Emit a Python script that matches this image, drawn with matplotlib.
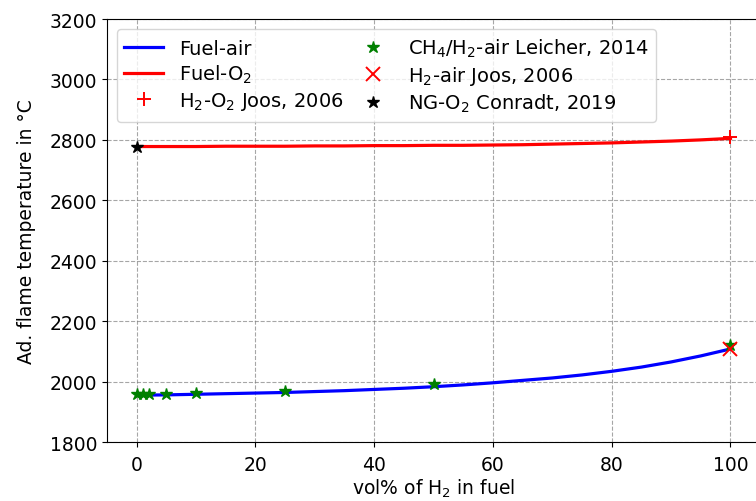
import numpy as np
import matplotlib
matplotlib.use("Agg")
import matplotlib.pyplot as plt

# model curves
h2_frac = [0, 5, 10, 15, 20, 25, 30, 35, 40, 45, 50, 55, 60, 65, 70, 75, 80, 85, 90, 95, 100]
t_fuel_air = [1955, 1956, 1958, 1960, 1962, 1964, 1967, 1970, 1974, 1978, 1983, 1989, 1996, 2004, 2012, 2022, 2034, 2048, 2065, 2085, 2108]
t_fuel_o2 = [2778, 2778, 2778, 2779, 2779, 2779, 2780, 2780, 2781, 2781, 2782, 2782, 2783, 2784, 2786, 2788, 2790, 2793, 2796, 2800, 2805]

# literature values
leicher_x = [0, 1, 2, 5, 10, 25, 50, 100]
leicher_t = [1958, 1958, 1958, 1960, 1962, 1970, 1992, 2120]
joos_o2_x, joos_o2_t = [100], [2808]
joos_air_x, joos_air_t = [100], [2108]
conradt_x, conradt_t = [0], [2775]

plt.rcParams['font.size'] = 13.5

fig = plt.figure(figsize=(7.56, 5.02), dpi=100)
ax = fig.add_axes([0.1415, 0.1175, 0.864, 0.8426])

ax.plot(h2_frac, t_fuel_air, color='blue', lw=2.3, label='Fuel-air')
ax.plot(h2_frac, t_fuel_o2, color='red', lw=2.3, label='Fuel-O$_2$')
ax.plot(joos_o2_x, joos_o2_t, '+', color='red', ms=10, mew=1.4, label='H$_2$-O$_2$ Joos, 2006')
ax.plot(leicher_x, leicher_t, '*', color='green', ms=9, label='CH$_4$/H$_2$-air Leicher, 2014')
ax.plot(joos_air_x, joos_air_t, 'x', color='red', ms=10, mew=1.4, label='H$_2$-air Joos, 2006')
ax.plot(conradt_x, conradt_t, '*', color='black', ms=9, label='NG-O$_2$ Conradt, 2019')

ax.set_xlim(-5, 105)
ax.set_ylim(1800, 3200)
ax.set_xlabel('vol% of H$_2$ in fuel', labelpad=2)
ax.set_ylabel('Ad. flame temperature in °C', labelpad=10)
ax.tick_params(axis='x', pad=6)
ax.grid(True, color='gray', linestyle='--', alpha=0.7)
ax.legend(ncol=2, loc='upper left', fontsize=14, handlelength=2,
          columnspacing=0.5, labelspacing=0.25)

fig.savefig('out.png', dpi=100)
